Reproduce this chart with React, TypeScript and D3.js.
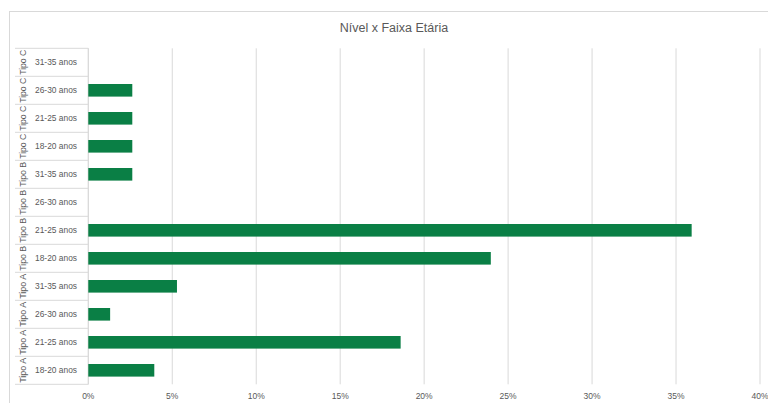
import React from "react";
import * as d3 from "d3";

const groups = ["Tipo A", "Tipo A", "Tipo A", "Tipo A", "Tipo B", "Tipo B", "Tipo B", "Tipo B", "Tipo C", "Tipo C", "Tipo C", "Tipo C"];
const ages = ["18-20 anos", "21-25 anos", "26-30 anos", "31-35 anos", "18-20 anos", "21-25 anos", "26-30 anos", "31-35 anos", "18-20 anos", "21-25 anos", "26-30 anos", "31-35 anos"];
const values = [0.0393, 0.186, 0.013, 0.0528, 0.2397, 0.3593, 0, 0.0262, 0.0262, 0.0262, 0.0262, 0];
const xTicks = [0, 0.05, 0.1, 0.15, 0.2, 0.25, 0.3, 0.35, 0.4];
const title = "Nível x Faixa Etária";

const W = 768;
const H = 403;
const FONT = "'Liberation Sans', Arial, sans-serif";
const TEXT = "#595959";
const GRID = "#d9d9d9";
const BAR = "#0a7f45";

export default function App() {
  const x = d3.scaleLinear().domain([0, 0.4]).range([88.3, 760]);
  const idx = values.map((_, i) => i);
  const y = d3.scaleBand<number>().domain(idx).range([384.3, 48.3]).paddingInner(0.55).paddingOuter(0.275);
  const row = d3.scaleBand<number>().domain(idx).range([384.3, 48.3]);
  const fmt = d3.format(".0%");

  return (
    <div style={{ position: "absolute", left: 0, top: 0 }}>
      <svg width={W} height={H} style={{ display: "block", background: "#fff" }}>
        <rect x={9.5} y={11.5} width={W} height={H} fill="#fff" stroke={GRID} />
        <text x={394} y={32} textAnchor="middle" fontFamily={FONT} fontSize={12.5} fill={TEXT}>{title}</text>
        {xTicks.map((t) => (
          <line key={"g" + t} x1={x(t)} x2={x(t)} y1={48.3} y2={384.3} stroke={GRID} strokeWidth={1} />
        ))}
        {idx.map((i) => (
          <line key={"s" + i} x1={15} x2={88.3} y1={row(i)!} y2={row(i)!} stroke={GRID} strokeWidth={1} />
        ))}
        <line x1={15} x2={88.3} y1={384.3} y2={384.3} stroke={GRID} />
        <line x1={88.3} x2={88.3} y1={48.3} y2={384.3} stroke={GRID} />
        {idx.map((i) => (
          <rect key={"b" + i} x={x(0)} y={y(i)!} width={Math.max(0, x(values[i]) - x(0))} height={y.bandwidth()} fill={BAR} />
        ))}
        {idx.map((i) => {
          const cy = row(i)! + row.bandwidth() / 2;
          return (
            <g key={"l" + i}>
              <text x={35} y={cy} dy="0.35em" fontFamily={FONT} fontSize={9} fill={TEXT} textLength={42} lengthAdjust="spacingAndGlyphs">{ages[i]}</text>
              <text transform={`translate(22.5,${cy}) rotate(-90)`} textAnchor="middle" dy="0.35em" fontFamily={FONT} fontSize={9} fill={TEXT} textLength={25} lengthAdjust="spacingAndGlyphs">{groups[i]}</text>
            </g>
          );
        })}
        {xTicks.map((t) => (
          <text key={"t" + t} x={x(t)} y={399} textAnchor="middle" fontFamily={FONT} fontSize={8.5} fill={TEXT}>{fmt(t)}</text>
        ))}
      </svg>
    </div>
  );
}
